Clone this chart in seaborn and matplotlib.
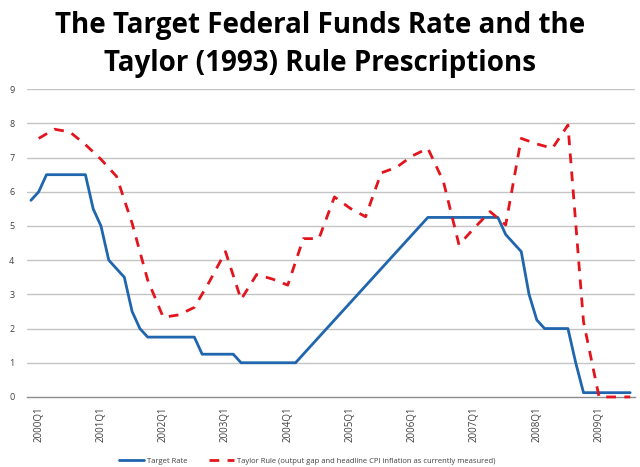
import numpy as np
import pandas as pd
import matplotlib
matplotlib.use("Agg")
import matplotlib.pyplot as plt
import seaborn as sns

# Target rate, read every half quarter starting half a quarter before 2000Q1
target_rate = [
    5.75, 6.0, 6.5, 6.5, 6.5, 6.5, 6.5, 6.5, 5.5, 5.0,
    4.0, 3.75, 3.5, 2.5, 2.0, 1.75, 1.75, 1.75, 1.75, 1.75,
    1.75, 1.75, 1.25, 1.25, 1.25, 1.25, 1.25, 1.0, 1.0, 1.0,
    1.0, 1.0, 1.0, 1.0, 1.0, 1.25, 1.5, 1.75, 2.0, 2.25,
    2.5, 2.75, 3.0, 3.25, 3.5, 3.75, 4.0, 4.25, 4.5, 4.75,
    5.0, 5.25, 5.25, 5.25, 5.25, 5.25, 5.25, 5.25, 5.25, 5.25,
    5.25, 4.75, 4.5, 4.25, 3.0, 2.25, 2.0, 2.0, 2.0, 2.0,
    1.0, 0.125, 0.125, 0.125, 0.125, 0.125, 0.125, 0.125,
]
# Taylor rule prescription, quarterly from 2000Q1
taylor_rule = [
    7.56, 7.83, 7.75, 7.38, 6.95, 6.45, 5.08, 3.42, 2.33, 2.4,
    2.62, 3.4, 4.25, 2.85, 3.58, 3.45, 3.27, 4.63, 4.63, 5.85,
    5.52, 5.27, 6.55, 6.72, 7.05, 7.27, 6.3, 4.45, 4.95, 5.42,
    5.03, 7.56, 7.4, 7.27, 7.95, 2.2, 0.0, 0.0, 0.0,
]
years = list(range(2000, 2010))
tick_labels = [f"{y}Q1" for y in years]

target_label = "Target Rate"
taylor_label = "Taylor Rule (output gap and headline CPI inflation as currently measured)"

# x in quarters since 2000Q1
df_target = pd.DataFrame({"q": np.arange(len(target_rate)) * 0.5 - 0.5,
                          "rate": target_rate})
df_taylor = pd.DataFrame({"q": np.arange(len(taylor_rule)),
                          "rate": taylor_rule})

sns.set_style("white")
plt.rcParams["font.family"] = ["Open Sans", "DejaVu Sans"]

fig = plt.figure(figsize=(6.4, 4.67), dpi=100)
ax = fig.add_axes([0.042, 0.150, 0.95, 0.659])

blue = "#1f66ae"
red = "#e3141c"

for y in range(1, 10):
    ax.axhline(y, color="#c4c4c4", lw=1.0, zorder=0)

sns.lineplot(data=df_target, x="q", y="rate", ax=ax, color=blue, lw=2.0,
             label=target_label, zorder=3)
sns.lineplot(data=df_taylor, x="q", y="rate", ax=ax, color=red, lw=2.0,
             label=taylor_label, zorder=4, clip_on=False)
ax.lines[-1].set_dashes((4.2, 2.8))

ax.set_xlim(-0.76, 38.3)
ax.set_ylim(0, 9)
ax.set_yticks(range(0, 10))
ax.set_xticks(range(0, 40, 4))
ax.set_xticklabels(tick_labels, rotation=90)
ax.tick_params(axis="both", length=0, labelsize=6.5, colors="#404040")
ax.tick_params(axis="x", labelsize=7, pad=7)
ax.tick_params(axis="y", pad=9)
ax.set_xlabel("")
ax.set_ylabel("")
for side in ["top", "right", "left"]:
    ax.spines[side].set_visible(False)
ax.spines["bottom"].set_color("#8c8c8c")
ax.spines["bottom"].set_linewidth(1.0)

ax.legend_.remove()
handles, labels = ax.get_legend_handles_labels()
handles[1].set_dashes((3.5, 3.0))
fig.legend(handles, labels, loc="center", bbox_to_anchor=(0.48, 0.012),
           ncol=2, frameon=False, fontsize=5.5, handlelength=3.3,
           handletextpad=0.4, columnspacing=2.8, labelcolor="#404040")

fig.suptitle("The Target Federal Funds Rate and the\nTaylor (1993) Rule Prescriptions",
             x=0.5, y=0.905, va="center", fontsize=20, fontweight="bold",
             linespacing=1.38, color="black")

fig.savefig("out.png", dpi=100)
